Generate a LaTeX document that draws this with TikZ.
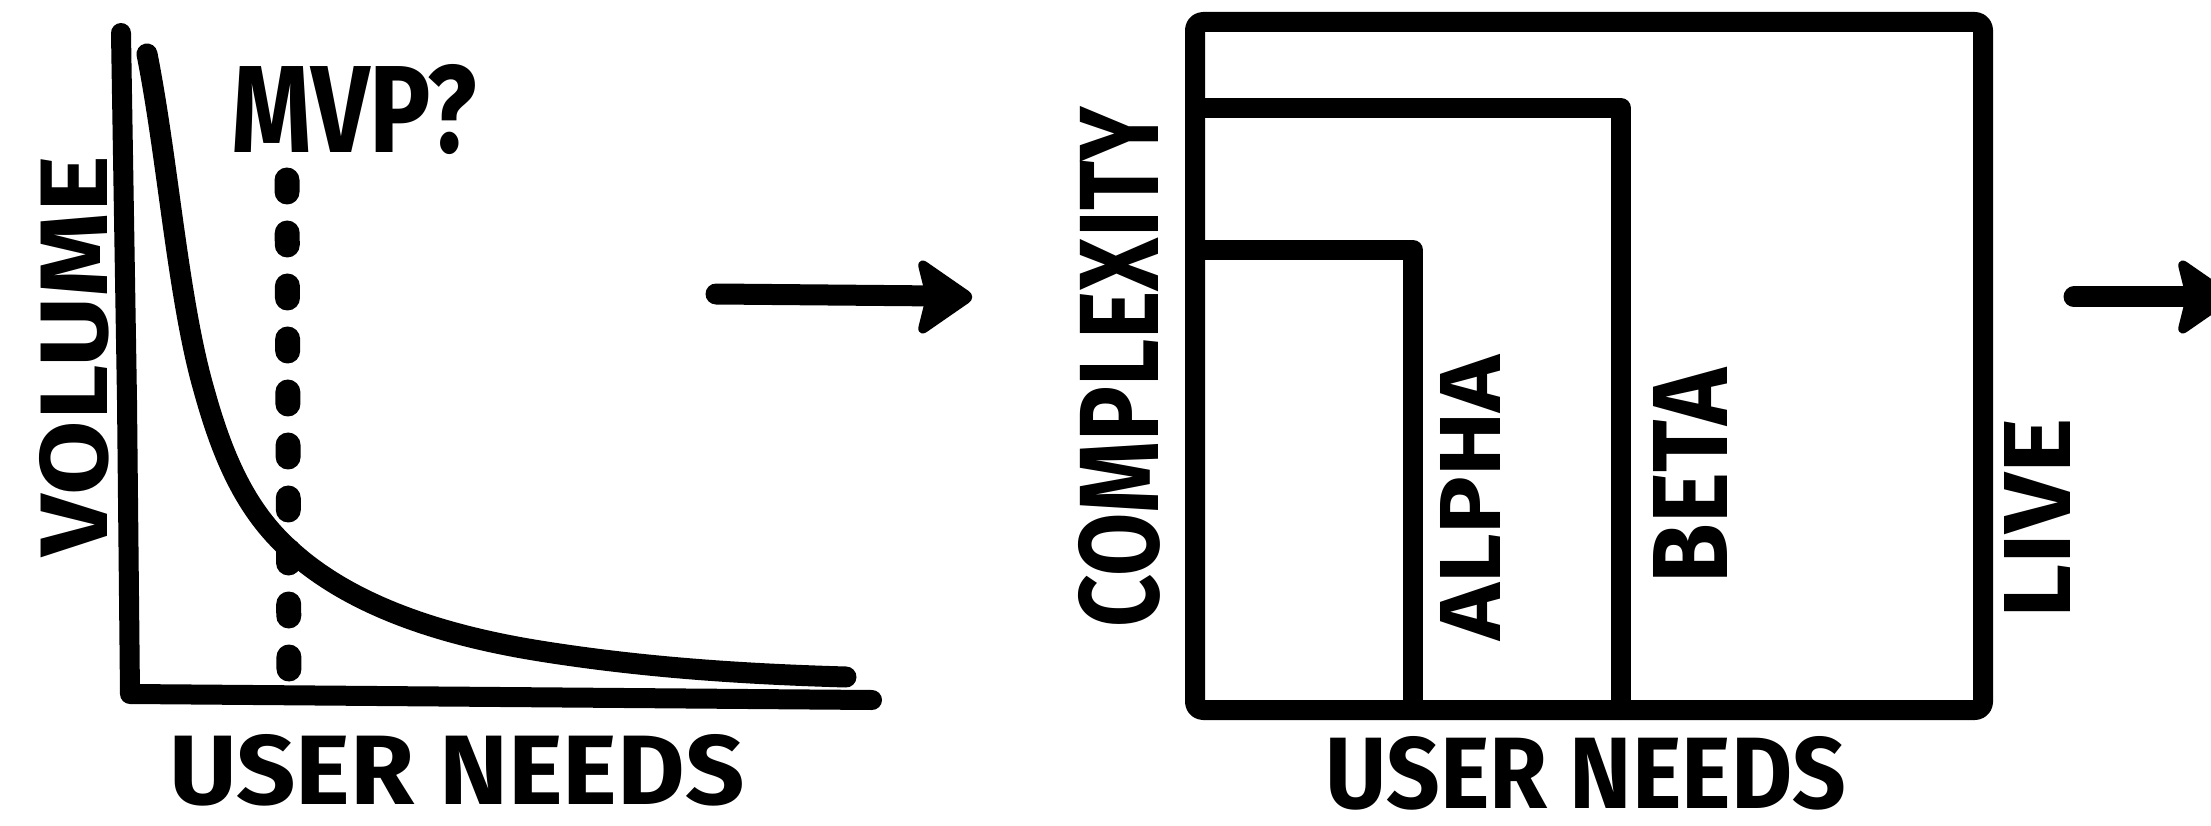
\documentclass[tikz,border=0pt]{standalone}
\usepackage{fontspec}
\setmainfont{Fira Sans}
\newcommand\fitbox[3]{\resizebox{#1}{#2}{\bfseries #3}}
\tikzset{
  axis/.style={line width=20pt, line cap=round, line join=round},
  curve/.style={line width=21pt, line cap=round},
  dots/.style={line width=25pt, line cap=round, dash pattern=on 12pt off 41pt},
  boxline/.style={line width=20pt, line join=round, line cap=round},
  arrline/.style={line width=21pt, line cap=round},
  arrhead/.style={fill=black, draw=black, line width=6pt, line join=round, rounded corners=6pt},
  lbl/.style={inner sep=0pt, text=black}
}
\begin{document}
\begin{tikzpicture}[x=1pt,y=-1pt]
\useasboundingbox (0,0) rectangle (2211,826);
\clip (0,0) rectangle (2211,826);
% ---------- left chart ----------
\coordinate (ytop) at (121,33);
\coordinate (orig) at (130,694);
\coordinate (xend) at (872,700);
\draw[axis] (ytop) -- (127,400) -- (orig) -- (xend);
\draw[curve] (147,54) .. controls (168,160) and (178,300) .. (204,390)
  .. controls (222,455) and (245,510) .. (290,550)
  .. controls (350,605) and (440,635) .. (540,651)
  .. controls (640,667) and (740,674) .. (846,677);
\coordinate (dtop) at (287,180);
\coordinate (dbot) at (289,676);
\draw[dots] (dtop) -- (dbot);
\node[lbl] (mvp) at (354,110) {\fitbox{245pt}{88pt}{MVP?}};
\node[lbl, rotate=90] (vol) at (74,356) {\fitbox{400pt}{68pt}{VOLUME}};
\node[lbl] (un1) at (457,770) {\fitbox{575pt}{70pt}{USER NEEDS}};
% ---------- arrow 1 ----------
\coordinate (a1s) at (716,294);
\coordinate (a1h) at (940,296);
\coordinate (a1e) at (972,297);
\draw[arrline] (a1s) -- (a1h);
\filldraw[arrhead, shift={(a1e)}] (0,0) -- (-52,-36) -- (-44,-4) -- (-44,4) -- (-52,36) -- cycle;
% ---------- middle boxes ----------
\coordinate (bl) at (1195,710);
\coordinate (tr) at (1983,22);
\draw[boxline, rounded corners=8pt] (bl) rectangle (tr);
\coordinate (bt) at (1195,108);
\coordinate (bc) at (1621,108);
\coordinate (bb) at (1621,710);
\draw[boxline] (bt) -- (bc) -- (bb);
\coordinate (at) at (1195,250);
\coordinate (ac) at (1413,250);
\coordinate (ab) at (1413,710);
\draw[boxline] (at) -- (ac) -- (ab);
\node[lbl, rotate=90] (cx) at (1119,367) {\fitbox{520pt}{80pt}{COMPLEXITY}};
\node[lbl, rotate=90] (alpha) at (1470,498) {\fitbox{285pt}{60pt}{ALPHA}};
\node[lbl, rotate=90] (beta) at (1690,476) {\fitbox{215pt}{74pt}{BETA}};
\node[lbl, rotate=90] (live) at (2037,518) {\fitbox{200pt}{66pt}{LIVE}};
\node[lbl] (un2) at (1586,773) {\fitbox{520pt}{72pt}{USER NEEDS}};
% ---------- arrow 2 ----------
\coordinate (a2s) at (2074,297);
\coordinate (a2h) at (2200,297);
\coordinate (a2e) at (2232,297);
\draw[arrline] (a2s) -- (a2h);
\filldraw[arrhead, shift={(a2e)}] (0,0) -- (-52,-36) -- (-44,-4) -- (-44,4) -- (-52,36) -- cycle;
\end{tikzpicture}
\end{document}
